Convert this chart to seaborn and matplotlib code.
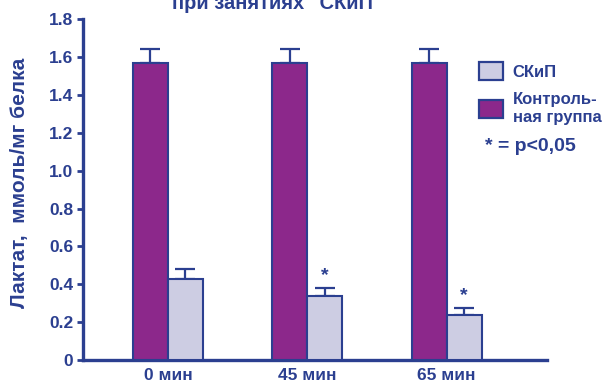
import matplotlib
matplotlib.use("Agg")
import matplotlib.pyplot as plt
import seaborn as sns
import pandas as pd
from matplotlib.patches import Patch

# Lactate data, mmol/mg protein
times = ["0 мин", "45 мин", "65 мин"]
control = [1.57, 1.57, 1.57]
control_err = [0.07, 0.07, 0.07]
skip = [0.43, 0.34, 0.24]
skip_err = [0.05, 0.04, 0.035]
significant = [False, True, True]

groups = ["Контрольная группа", "СКиП"]
yticks = [0, 0.2, 0.4, 0.6, 0.8, 1.0, 1.2, 1.4, 1.6, 1.8]
ytick_labels = ["0", "0.2", "0.4", "0.6", "0.8", "1.0", "1.2", "1.4", "1.6", "1.8"]

NAVY = "#2B3F90"
PURPLE = "#8C288B"
LILAC = "#CDCDE3"

df = pd.DataFrame({
    "time": times * 2,
    "group": [groups[0]] * 3 + [groups[1]] * 3,
    "value": control + skip,
    "err": control_err + skip_err,
})

sns.set_theme(style="white")
plt.rcParams["font.family"] = ["Liberation Sans", "DejaVu Sans"]
plt.rcParams["font.weight"] = "bold"

fig = plt.figure(figsize=(6.14, 3.83), dpi=100)
ax = fig.add_axes([0.135, 0.06, 0.756, 0.89])

sns.barplot(data=df, x="time", y="value", hue="group", hue_order=groups,
            palette=[PURPLE, LILAC], saturation=1, width=0.5, errorbar=None,
            edgecolor=NAVY, linewidth=1.5, ax=ax, legend=False, zorder=3)

# upper-only error bars and significance marks, taken from the bar geometry
for k, (container, errs) in enumerate(zip(ax.containers, [control_err, skip_err])):
    for i, (bar, e) in enumerate(zip(container, errs)):
        cx = bar.get_x() + bar.get_width() / 2
        h = bar.get_height()
        ax.errorbar(cx, h, yerr=[[0], [e]], fmt="none", ecolor=NAVY,
                    elinewidth=1.6, capsize=7, capthick=1.6, zorder=2)
        if k == 1 and significant[i]:
            ax.text(cx, h + e + 0.02, "*", ha="center", va="bottom",
                    color=NAVY, fontsize=14, fontweight="bold")

ax.set_ylim(0, 1.8)
ax.set_xlim(-0.61, 2.72)
ax.set_yticks(yticks)
ax.set_yticklabels(ytick_labels)
ax.set_xlabel("")
ax.set_ylabel("Лактат,  ммоль/мг белка", color=NAVY, fontsize=15,
              fontweight="bold")
ax.yaxis.set_label_coords(-0.116, 0.52)

for s in ["top", "right"]:
    ax.spines[s].set_visible(False)
for s in ["left", "bottom"]:
    ax.spines[s].set_color(NAVY)
    ax.spines[s].set_linewidth(2.4)

ax.tick_params(axis="y", direction="out", length=4, width=2, color=NAVY,
               labelcolor=NAVY, labelsize=12.5, left=True, pad=3)
ax.tick_params(axis="x", length=0, labelcolor=NAVY, labelsize=12.5, pad=6)
for lbl in ax.get_xticklabels() + ax.get_yticklabels():
    lbl.set_fontweight("bold")

handles = [Patch(facecolor=LILAC, edgecolor=NAVY, linewidth=1.6),
           Patch(facecolor=PURPLE, edgecolor=NAVY, linewidth=1.6)]
leg = ax.legend(handles, ["СКиП", "Контроль-\nная группа"],
                loc="upper left", bbox_to_anchor=(0.84, 0.893),
                frameon=False, handlelength=1.4, handleheight=1.3,
                handletextpad=0.6, labelspacing=0.7, borderaxespad=0,
                prop={"weight": "bold", "size": 12})
for t in leg.get_texts():
    t.set_color(NAVY)

fig.text(0.79, 0.617, "* = p<0,05", color=NAVY, fontsize=14,
         fontweight="bold", ha="left", va="center")

fig.text(0.451, 0.9765, "при занятиях \"СКиП\"", color=NAVY, fontsize=14.5,
         fontweight="bold", ha="center", va="baseline")

fig.savefig("out.png", dpi=100)
